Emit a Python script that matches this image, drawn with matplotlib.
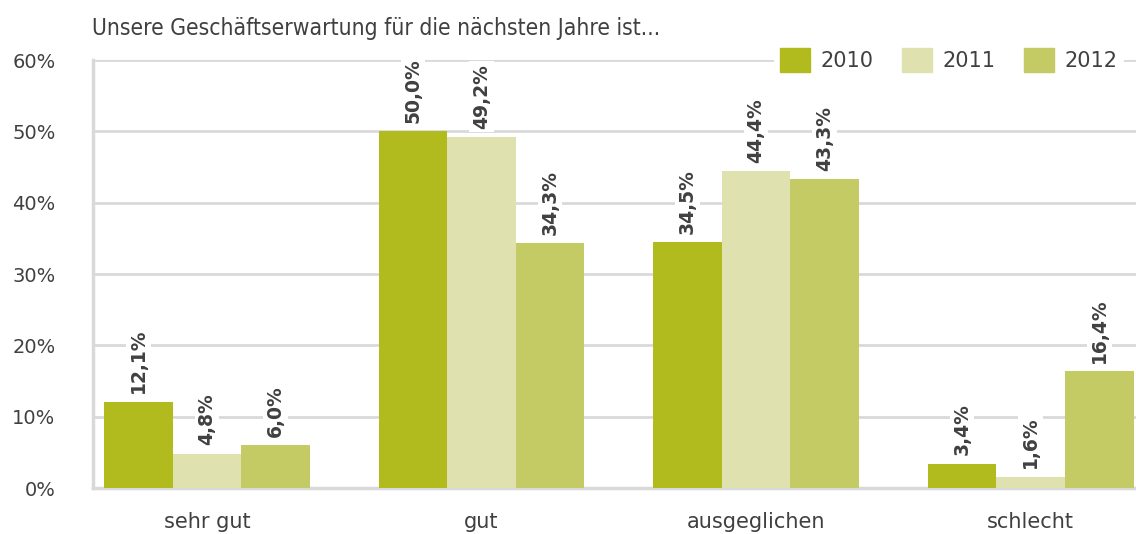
import matplotlib
matplotlib.use("Agg")
import matplotlib.pyplot as plt
import numpy as np
from matplotlib.patches import Patch

categories = ["sehr gut", "gut", "ausgeglichen", "schlecht"]
years = ["2010", "2011", "2012"]
v2010 = [12.1, 50.0, 34.5, 3.4]
v2011 = [4.8, 49.2, 44.4, 1.6]
v2012 = [6.0, 34.3, 43.3, 16.4]
yticks = [0, 10, 20, 30, 40, 50, 60]
title = "Unsere Geschäftserwartung für die nächsten Jahre ist..."

colors = ["#B2BB1E", "#DFE2AF", "#C5CB64"]
txt = "#404040"
grid = "#D9D9D9"

plt.rcParams['font.family'] = ['DejaVu Sans']

fig = plt.figure(figsize=(11.36, 5.34), dpi=100)
ax = fig.add_axes([93/1136, 1-488/534, 1-93/1136, (488-60)/534])

x = np.arange(len(categories))
w = 0.25
series = [v2010, v2011, v2012]
for i, (vals, c) in enumerate(zip(series, colors)):
    xs = x + (i-1)*w
    ax.bar(xs, vals, width=w, color=c, zorder=3, label=years[i])
    for xi, v in zip(xs, vals):
        ax.annotate(f"{v:.1f}%".replace(".", ","), (xi, v), xytext=(0, 6),
                    textcoords="offset points", rotation=90, ha="center", va="bottom",
                    fontsize=13.5, fontweight="bold", color=txt, zorder=5,
                    bbox=dict(boxstyle="square,pad=0.15", fc="white", ec="none"))

ax.set_ylim(0, 60)
ax.set_xlim(-0.415, 3.384)
ax.set_yticks(yticks)
ax.set_yticklabels([f"{t}%" for t in yticks])
ax.set_xticks(x)
ax.set_xticklabels(categories)
ax.tick_params(axis="y", length=0, pad=27, labelsize=14, labelcolor=txt)
ax.tick_params(axis="x", length=0, pad=17, labelsize=15, labelcolor=txt)
ax.yaxis.grid(True, color=grid, linewidth=2, zorder=0)
ax.set_axisbelow(True)
for s in ["top", "right"]:
    ax.spines[s].set_visible(False)
for s in ["left", "bottom"]:
    ax.spines[s].set_color(grid)
    ax.spines[s].set_linewidth(2.5)

fig.text(92/1136, 1-28/534, title, fontsize=16.4, color=txt, va="center", ha="left",
         family=["Liberation Sans Narrow", "DejaVu Sans"], fontstretch="condensed")

handles = [Patch(color=c, label=y) for c, y in zip(colors, years)]
leg = ax.legend(handles=handles, loc="center right", bbox_to_anchor=(1134/1136, 1-60/534),
                bbox_transform=fig.transFigure,
                ncol=3, frameon=True, fontsize=15, handlelength=1.45, handleheight=1.45,
                handletextpad=0.5, columnspacing=1.35, borderpad=0.3)
leg.get_frame().set_facecolor("white")
leg.get_frame().set_edgecolor("none")
leg.get_frame().set_alpha(1)
leg.set_zorder(10)
for t in leg.get_texts():
    t.set_color(txt)

fig.savefig("out.png", dpi=100)
